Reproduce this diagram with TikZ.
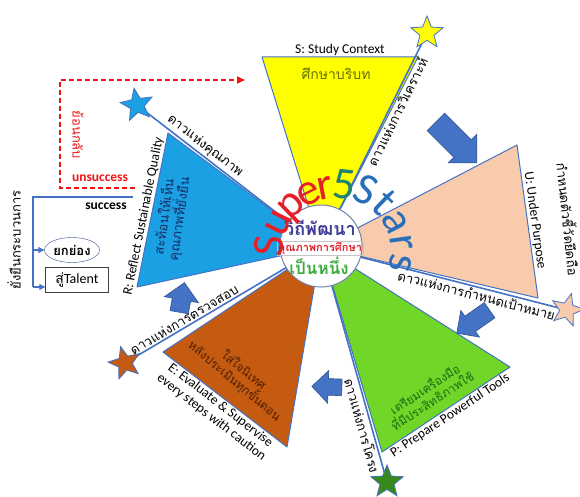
\documentclass[tikz,border=0pt]{standalone}
\usepackage{fontspec}
\setmainfont{Carlito}
\newfontfamily\thaifont[Script=Thai]{Loma}
\usetikzlibrary{shapes.geometric, shapes.arrows}
\usetikzlibrary{arrows.meta}
\usetikzlibrary{calc}

\definecolor{edgeblue}{RGB}{68,114,196}
\definecolor{arrowfill}{RGB}{68,114,196}
\definecolor{arrowrim}{RGB}{47,82,143}
\definecolor{petalS}{RGB}{255,255,0}
\definecolor{petalU}{RGB}{248,203,173}
\definecolor{petalP}{RGB}{112,214,40}
\definecolor{petalE}{RGB}{197,90,17}
\definecolor{petalR}{RGB}{28,160,228}
\definecolor{inkS}{RGB}{105,112,0}
\definecolor{inkP}{RGB}{30,105,20}
\definecolor{inkE}{RGB}{80,30,0}
\definecolor{inkR}{RGB}{20,45,100}
\definecolor{hubrim}{RGB}{112,132,168}
\definecolor{hubnavy}{RGB}{60,60,150}
\definecolor{hubred}{RGB}{225,30,40}
\definecolor{hubgreen}{RGB}{60,170,60}
\definecolor{superred}{RGB}{230,30,40}
\definecolor{superteal}{RGB}{30,130,110}
\definecolor{superblue}{RGB}{40,110,185}
\definecolor{backred}{RGB}{240,20,20}

\newcommand{\fsz}[2]{\fontsize{#1}{#2}\selectfont}

\tikzset{
  petal/.style={draw=edgeblue, line width=1pt, line join=round},
  starline/.style={draw=edgeblue, line width=1.6pt},
  starmark/.style={star, star points=5, star point ratio=2.3, minimum size=34pt,
    inner sep=0pt, draw=edgeblue, line width=0.8pt},
  turnarrow/.style n args={3}{single arrow, fill=arrowfill, draw=arrowrim, line width=0.6pt,
    inner xsep=0pt, minimum height=#1, inner ysep=#2, single arrow head extend=#3},
  thaitext/.style={font=\thaifont\fsz{13}{15}, inner sep=1.5pt},
  engtext/.style={font=\fsz{13.5}{15}, inner sep=1.5pt},
  flowline/.style={draw=edgeblue, line width=1.2pt},
  superletter/.style={font=\fsz{45}{45}, anchor=base, inner sep=0pt},
}

\begin{document}
\begin{tikzpicture}[x=1pt, y=-1pt]
    \useasboundingbox (0,0) rectangle (580,497);

    \coordinate (C) at (321,247);
    \coordinate (S1) at (262,57);   \coordinate (S2) at (418,57);
    \coordinate (U1) at (517,145);  \coordinate (U2) at (538,298);
    \coordinate (P1) at (510,367);  \coordinate (P2) at (382,452);
    \coordinate (E1) at (287,447);  \coordinate (E2) at (163,352);
    \coordinate (R1) at (137,287);  \coordinate (R2) at (168,133);

    \draw [petal, fill=petalS] (C) -- (S1) -- (S2) -- cycle;
    \draw [petal, fill=petalU] (C) -- (U1) -- (U2) -- cycle;
    \draw [petal, fill=petalP] (C) -- (P1) -- (P2) -- cycle;
    \draw [petal, fill=petalE] (C) -- (E1) -- (E2) -- cycle;
    \draw [petal, fill=petalR] (C) -- (R1) -- (R2) -- cycle;

    \coordinate (tipS) at (427,33);
    \coordinate (tipU) at (567,310);
    \coordinate (tipP) at (387,482);
    \coordinate (tipE) at (125,363);
    \coordinate (tipR) at (137,105);

    \draw [starline] (C) -- (tipS) node [pos=0.65, sloped, below, thaitext] {ดาวแห่งการวิเคราะห์};
    \draw [starline] (C) -- (tipU) node [pos=0.64, sloped, below, thaitext] {ดาวแห่งการกำหนดเป้าหมาย};
    \draw [starline] (C) -- (tipP) node [pos=0.75, sloped, below, thaitext] {ดาวแห่งการโครง};
    \draw [starline] (C) -- (tipE) node [pos=0.68, sloped, above, thaitext] {ดาวแห่งการตรวจสอบ};
    \draw [starline] (C) -- (tipR) node [pos=0.66, sloped, above, thaitext] {ดาวแห่งคุณภาพ};

    \node [starmark, fill=petalS] (starS) at (tipS) {};
    \node [starmark, fill=petalU, rotate=-15] (starU) at (tipU) {};
    \node [starmark, fill=inkP!70!petalP] (starP) at (tipP) {};
    \node [starmark, fill=petalE, rotate=15] (starE) at (tipE) {};
    \node [starmark, fill=petalR, rotate=10] (starR) at (tipR) {};

    \node [turnarrow={58pt}{12pt}{8pt}, rotate=-45] (turnSU) at (452,138) {};
    \node [turnarrow={40pt}{9pt}{7pt}, rotate=-145] (turnUP) at (477,319) {};
    \node [turnarrow={30pt}{8pt}{8pt}, rotate=178] (turnPE) at (331,387) {};
    \node [turnarrow={30pt}{9pt}{8pt}, rotate=80] (turnER) at (181,302) {};

    \node [circle, draw=hubrim, fill=white, line width=1pt, minimum size=82pt, inner sep=0pt] (hub) at (321,246) {};
    \node [font=\thaifont\bfseries\fsz{18}{18}, text=hubnavy] (hubtop) at (320,228) {วิถีพัฒนา};
    \node [font=\thaifont\bfseries\fsz{11}{11}, text=hubred, draw=gray!45, inner sep=0.8pt] (hubmid) at (320,248) {คุณภาพการศึกษา};
    \node [font=\thaifont\bfseries\fsz{17}{17}, text=hubgreen] (hublow) at (319,266) {เป็นหนึ่ง};

    \coordinate (arcc) at (337,252);
    \foreach \ch/\ang/\col [count=\k] in {S/175/superred, u/154/superred, p/134/superred,
        e/116/superred, r/101/superred, 5/84/superteal, S/65/superblue, t/46/superblue,
        a/27/superblue, r/8/superblue, s/-10/superblue}
        \node [superletter, text=\col, rotate=\ang-90] (sup\k) at ($(arcc)+({-\ang}:54)$) {\ch};

    \path (S1) -- (S2) node [midway, above, engtext] (labS) {S: Study Context};
    \node [thaitext, font=\thaifont\fsz{14}{14}, text=inkS] (thaiS) at (336,74) {ศึกษาบริบท};

    \path (U1) -- (U2) node [midway, sloped, above, engtext] (labU) {U: Under Purpose};
    \node [thaitext, rotate=-84] (thaiU) at (569,219) {กำหนดตัวชี้วัดยึดถือ};

    \path (P2) -- (P1) node [midway, sloped, below, engtext] (labP) {P: Prepare Powerful Tools};
    \node [thaitext, font=\thaifont\fsz{12}{14}, text=inkP, rotate=33, align=center] (thaiP) at (428,394) {เตรียมเครื่องมือ\\ที่มีประสิทธิภาพใช้};

    \path (E2) -- (E1) node [midway, sloped, below, engtext, align=center] (labE) {E: Evaluate \& Supervise\\every steps with caution};
    \node [thaitext, font=\thaifont\fsz{12}{14}, text=inkE, rotate=-40, align=center] (thaiE) at (239,376) {ใส่ใจนิเทศ\\หลังประเมินทุกขั้นตอน};

    \path (R1) -- (R2) node [pos=0.45, sloped, above, engtext] (labR) {R: Reflect Sustainable Quality};
    \node [thaitext, text=inkR, rotate=82, align=center] (thaiR) at (172,218) {สะท้อนให้เห็น\\คุณภาพที่ยั่งยืน};

    \node [engtext, font=\bfseries\fsz{13.5}{15}, text=backred] (unsucc) at (100,178) {unsuccess};
    \node [engtext, font=\bfseries\fsz{13.5}{15}] (succ) at (106,206) {success};
    \node [thaitext, text=backred, rotate=-90] (back) at (78,135) {ย้อนกลับ};
    \node [thaitext, rotate=90] (sustain) at (14,240) {ยั่งยืนกระบวนการ};
    \node [ellipse, draw=edgeblue!70!black, minimum width=55pt, minimum height=25pt, inner sep=0pt,
        font=\thaifont\bfseries\fsz{13}{13}] (praise) at (72,250) {ยกย่อง};
    \node [rectangle, draw=black!75, minimum width=63pt, minimum height=25pt, inner sep=0pt,
        font=\fsz{14}{14}] (talent) at (77,280) {{\thaifont สู่}Talent};

    \coordinate (succstart) at (133,197);
    \coordinate (succturn) at (33,197);
    \coordinate (succfoot) at (33,287);
    \draw [flowline] (succstart) -- (succturn) -- (succfoot);
    \draw [flowline, -{Triangle[length=6pt, width=6pt]}] (succturn |- praise.west) -- (praise.west);
    \draw [flowline, -{Triangle[length=6pt, width=6pt]}] (succfoot) -- (succfoot -| talent.west);

    \coordinate (backstart) at (135,188);
    \coordinate (backlow) at (60,188);
    \coordinate (backhigh) at (60,80);
    \coordinate (backend) at (245,80);
    \draw [backred, line width=1.6pt, dash pattern=on 5pt off 3pt, -{Triangle[length=8pt, width=7pt]}]
        (backstart) -- (backlow) -- (backhigh) -- (backend);
\end{tikzpicture}
\end{document}
